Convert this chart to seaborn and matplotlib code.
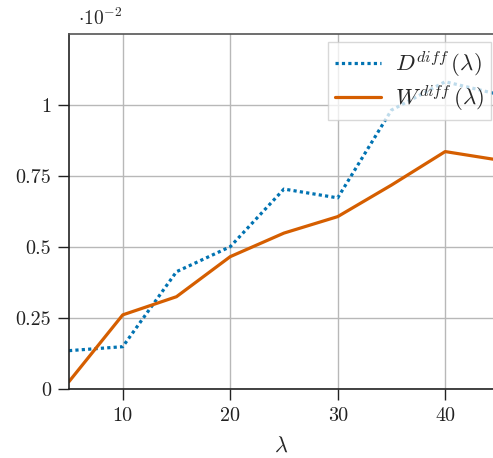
import numpy as np
import pandas as pd
import seaborn as sns
import matplotlib.pyplot as plt

# values (units of 1e-2 shown on axis)
lam = [5, 10, 15, 20, 25, 30, 35, 40, 45]
d_diff = [0.00135, 0.00149, 0.00413, 0.00501, 0.00704, 0.00673, 0.00982, 0.01082, 0.01037]
w_diff = [0.00026, 0.00261, 0.00325, 0.00466, 0.00549, 0.00607, 0.00718, 0.00836, 0.00806]
y_ticks = [0, 0.0025, 0.005, 0.0075, 0.01]
y_ticklabels = ['0', '0.25', '0.5', '0.75', '1']
x_ticks = [10, 20, 30, 40]

sns.set_style('white')
plt.rcParams['font.family'] = 'serif'
plt.rcParams['font.serif'] = ['cmr10', 'DejaVu Serif']
plt.rcParams['mathtext.fontset'] = 'cm'
plt.rcParams['axes.unicode_minus'] = False

pal = sns.color_palette('colorblind')
blue, orange = pal[0], pal[3]

df = pd.DataFrame({'lam': lam, 'D': d_diff, 'W': w_diff})

fig = plt.figure(figsize=(4.93, 4.58), dpi=100)
ax = fig.add_axes([69 / 493, 1 - 389 / 458, 1 - 69 / 493, (389 - 34) / 458])

sns.lineplot(data=df, x='lam', y='D', ax=ax, color=blue, linewidth=2.3,
             linestyle=(0, (1, 1)), label=r'$D^{diff}\,(\lambda)$')
sns.lineplot(data=df, x='lam', y='W', ax=ax, color=orange, linewidth=2.3,
             label=r'$W^{diff}\,(\lambda)$')

ax.set_xlim(5, 44.45)
ax.set_ylim(0, 0.0125)
ax.set_xticks(x_ticks)
ax.set_xticklabels([str(t) for t in x_ticks])
ax.set_yticks(y_ticks)
ax.set_yticklabels(y_ticklabels)
ax.tick_params(axis='both', direction='out', length=8, width=1, labelsize=14.5, colors='#222222', pad=5,
               left=True, bottom=True)
ax.grid(True, color='#b8b8b8', linewidth=1)
ax.set_axisbelow(True)

for s in ['left', 'bottom']:
    ax.spines[s].set_color('#222222')
    ax.spines[s].set_linewidth(1.2)
ax.spines['top'].set_color('#555555')
ax.spines['top'].set_linewidth(1.2)
ax.spines['right'].set_visible(False)

ax.set_xlabel(r'$\lambda$', fontsize=16, labelpad=8)
ax.set_ylabel('')

leg = ax.legend(loc='upper right', bbox_to_anchor=(0.995, 0.978), fontsize=16.5, frameon=True, fancybox=False,
                framealpha=0.75, edgecolor='#cccccc', handlelength=2.0, borderpad=0.3, labelspacing=0.2,
                handletextpad=0.6, borderaxespad=0)
leg.get_frame().set_linewidth(1)

fig.text(78 / 493, 1 - 18 / 458, r'$\cdot 10^{-2}$', fontsize=14, va='center', ha='left')

fig.savefig('out.png', dpi=100)
